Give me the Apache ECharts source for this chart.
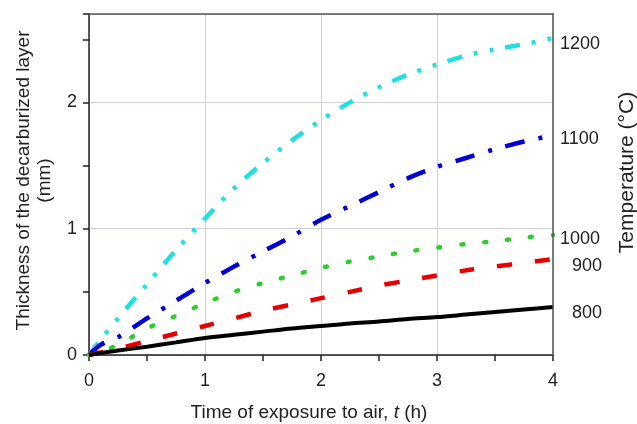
<!DOCTYPE html>
<html>
<head>
<meta charset="utf-8">
<script src="https://cdn.jsdelivr.net/npm/echarts@6/dist/echarts.min.js"></script>
<style>
html,body{margin:0;padding:0;background:#fff;}
#chart{width:637px;height:424px;}
</style>
</head>
<body>
<div id="chart"></div>
<script>
// Time of exposure to air, t (h)
var times = [0, 0.1, 0.25, 0.5, 0.75, 1, 1.25, 1.5, 1.75, 2, 2.25, 2.5, 2.75, 3, 3.25, 3.5, 3.75, 4];
// Thickness of decarburized layer (mm) for each temperature
var t1200 = [0, 0.12, 0.29, 0.56, 0.83, 1.08, 1.32, 1.52, 1.70, 1.86, 2.00, 2.12, 2.22, 2.30, 2.37, 2.42, 2.46, 2.51];
var t1100 = [0, 0.08, 0.14, 0.29, 0.43, 0.57, 0.70, 0.82, 0.94, 1.07, 1.18, 1.29, 1.40, 1.49, 1.56, 1.63, 1.69, 1.74];
var t1000 = [0, 0.03, 0.08, 0.21, 0.31, 0.41, 0.50, 0.57, 0.63, 0.69, 0.74, 0.78, 0.82, 0.85, 0.88, 0.90, 0.93, 0.95];
var t900  = [0, 0.02, 0.05, 0.11, 0.17, 0.23, 0.29, 0.35, 0.40, 0.45, 0.50, 0.55, 0.59, 0.63, 0.67, 0.70, 0.73, 0.76];
var t800  = [0, 0.015, 0.035, 0.066, 0.10, 0.135, 0.16, 0.185, 0.21, 0.23, 0.25, 0.265, 0.285, 0.30, 0.32, 0.34, 0.36, 0.38];
var seriesNames = ['1200', '1100', '1000', '900', '800'];
var xTitle = 'Time of exposure to air, ';
var yTitle = 'Thickness of the decarburized layer\n(mm)';
var y2Title = 'Temperature (\u00B0C)';

function pairs(vals){ return times.map(function(t,i){ return [t, vals[i]]; }); }

var FONT = '"Liberation Sans", Arial, Helvetica, sans-serif';
var chart = echarts.init(document.getElementById('chart'), null, {renderer:'canvas'});

function endLbl(dx, dy){
  return {show:true, formatter:'{a}', distance:7, offset:[dx, dy], color:'#222', fontSize:18, fontFamily:FONT, align:'left'};
}

var option = {
  animation:false,
  backgroundColor:'#fff',
  grid:{left:89, right:84, top:14, bottom:69, outerBoundsMode:'none', containLabel:false,
        show:false},
  xAxis:[
    {type:'value', min:0, max:4, interval:1, position:'bottom', z:1,
     axisLine:{show:true, onZero:false, lineStyle:{color:'#222', width:1.5}},
     axisTick:{show:false},
     axisLabel:{show:true, margin:17, color:'#222', fontSize:18, fontFamily:FONT},
     splitLine:{show:true, lineStyle:{color:'#cfcfdc', width:1}}},
    {type:'value', min:0, max:4, interval:0.5, position:'bottom', z:3,
     name:'{n|' + xTitle + '}{i|t}{n| (h)}', nameLocation:'middle', nameGap:48,
     nameTextStyle:{padding:[0,24,0,0], rich:{n:{fontSize:19, color:'#222', fontFamily:FONT}, i:{fontSize:19, color:'#222', fontFamily:FONT, fontStyle:'italic'}}},
     axisLine:{show:false, onZero:false},
     axisTick:{show:true, length:6, lineStyle:{color:'#222', width:1.5}},
     axisLabel:{show:false},
     splitLine:{show:false}},
    {type:'value', min:0, max:4, position:'top', z:5,
     axisLine:{show:true, onZero:false, lineStyle:{color:'#555', width:1.5}},
     axisTick:{show:false}, axisLabel:{show:false}, splitLine:{show:false}}
  ],
  yAxis:[
    {type:'value', min:0, max:2.7, interval:1, position:'left', z:1,
     name:yTitle, nameLocation:'middle', nameGap:34,
     nameTextStyle:{fontSize:19, color:'#222', fontFamily:FONT, lineHeight:21, align:'center', padding:[0,0,0,8]},
     axisLine:{show:true, onZero:false, lineStyle:{color:'#222', width:1.5}},
     axisTick:{show:false},
     axisLabel:{show:true, margin:12, color:'#222', fontSize:18, fontFamily:FONT,
       formatter:function(v){ return Math.abs(v - Math.round(v)) < 1e-9 ? String(Math.round(v)) : ''; }},
     splitLine:{show:true, lineStyle:{color:'#cfcfdc', width:1}}},
    {type:'value', min:0, max:2.7, interval:0.5, position:'left', z:3,
     axisLine:{show:false, onZero:false},
     axisTick:{show:true, length:6, lineStyle:{color:'#222', width:1.5}},
     axisLabel:{show:false},
     splitLine:{show:false}},
    {type:'value', min:0, max:2.7, interval:1, position:'right', z:5,
     name:y2Title, nameLocation:'middle', nameGap:64,
     nameTextStyle:{fontSize:21, color:'#222', fontFamily:FONT, padding:[0,0,0,24]},
     axisLine:{show:true, onZero:false, lineStyle:{color:'#555', width:1.5}}, axisTick:{show:false}, axisLabel:{show:false}, splitLine:{show:false}}
  ],
  series:[
    {name:seriesNames[0], type:'line', data:pairs(t1200), showSymbol:false, smooth:0.3,
     lineStyle:{color:'#22e0e0', width:4.5, type:[15,12,4,12,4,12], cap:'butt'},
     endLabel:endLbl(0,6)},
    {name:seriesNames[1], type:'line', data:pairs(t1100), showSymbol:false, smooth:0.3,
     lineStyle:{color:'#0000d2', width:4.5, type:[20,14,4,14], cap:'butt'},
     endLabel:endLbl(0,4)},
    {name:seriesNames[2], type:'line', data:pairs(t1000), showSymbol:false, smooth:0.3,
     lineStyle:{color:'#2fcc2f', width:4.5, type:[2,21], cap:'round'},
     endLabel:endLbl(0,4)},
    {name:seriesNames[3], type:'line', data:pairs(t900), showSymbol:false, smooth:0.3,
     lineStyle:{color:'#e80000', width:4.5, type:[15,23], cap:'butt'},
     endLabel:endLbl(12,7)},
    {name:seriesNames[4], type:'line', data:pairs(t800), showSymbol:false, smooth:0.3,
     lineStyle:{color:'#000', width:4, type:'solid'},
     endLabel:endLbl(12,6)}
  ]
};
chart.setOption(option);
</script>
</body>
</html>
